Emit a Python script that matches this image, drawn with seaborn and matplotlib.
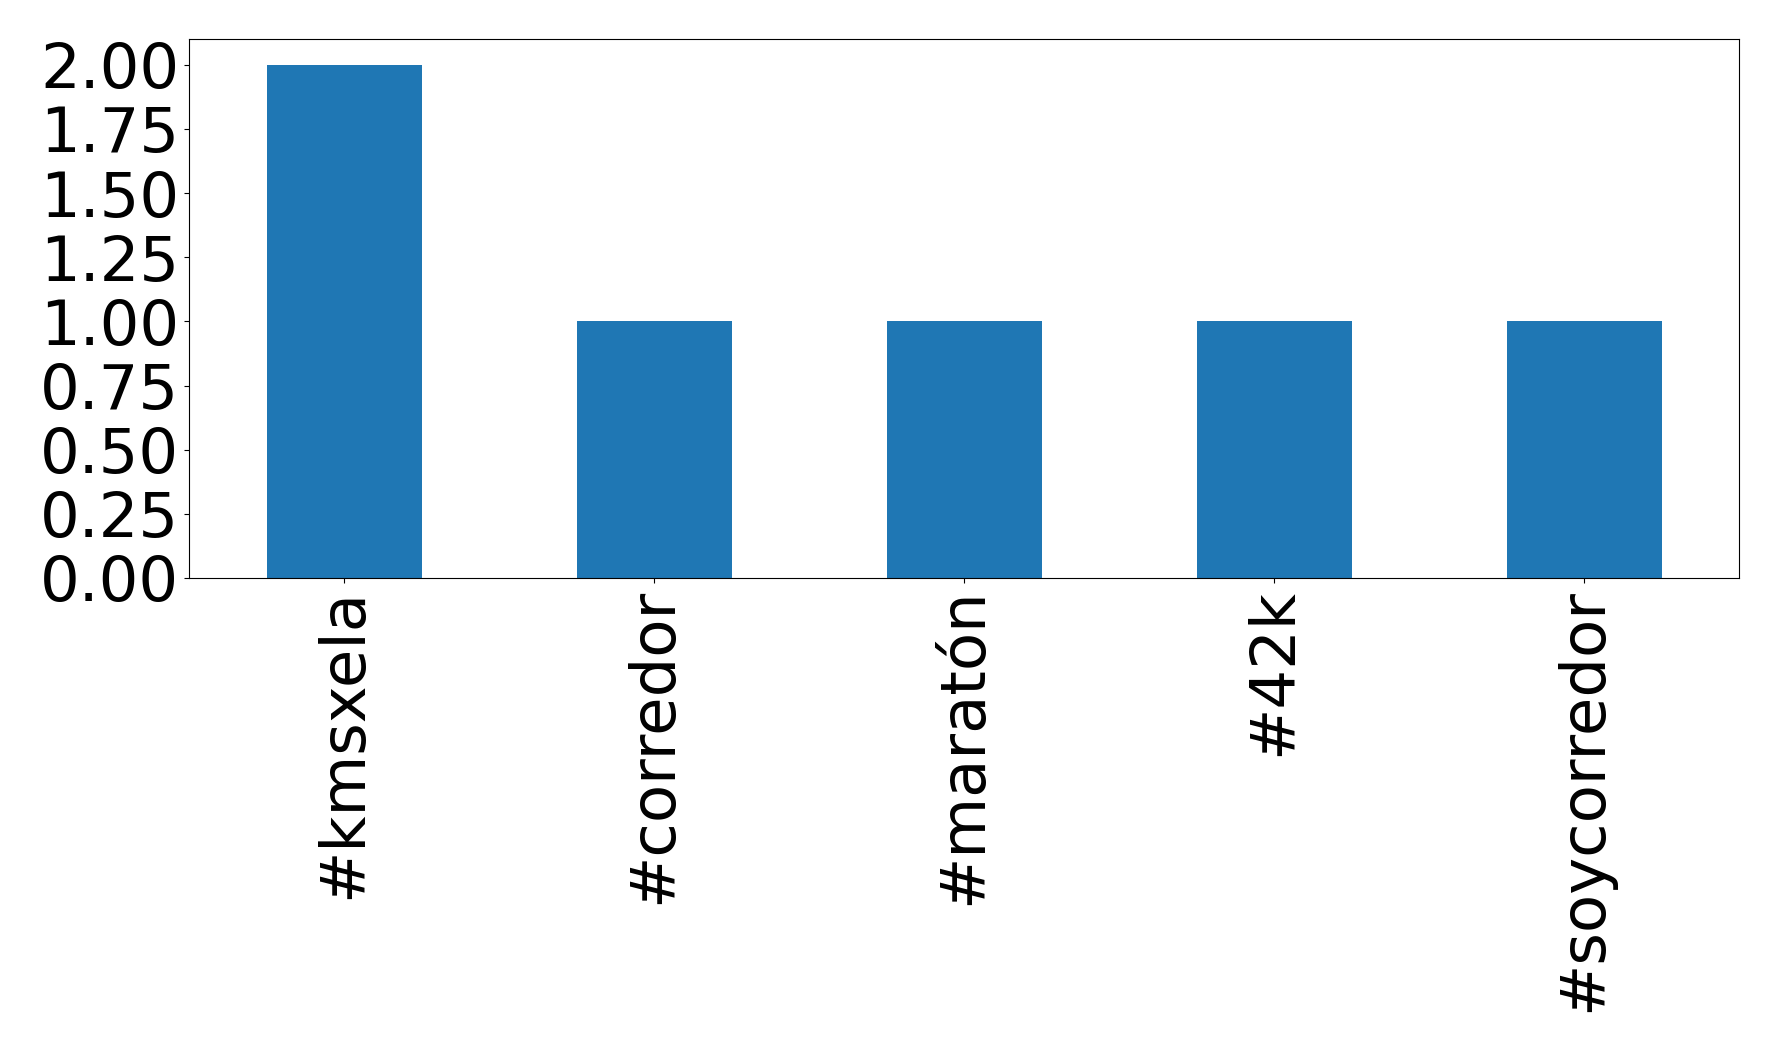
import matplotlib
matplotlib.use("Agg")
import matplotlib.pyplot as plt
import seaborn as sns
import pandas as pd

hashtags = ["#kmsxela", "#corredor", "#maratón", "#42k", "#soycorredor"]
counts = [2, 1, 1, 1, 1]

df = pd.DataFrame({"hashtag": hashtags, "count": counts})

fig = plt.figure(figsize=(17.78, 10.52), dpi=100)
ax = fig.add_axes([189/1778, 1 - 578/1052, 1550/1778, (578 - 39)/1052])
sns.barplot(data=df, x="hashtag", y="count", color="#1f77b4", saturation=1,
            width=0.5, ax=ax, errorbar=None, linewidth=0)
ax.set_xlim(-0.5, 4.5)
ax.set_ylim(0, 2.1)
yt = [0, 0.25, 0.5, 0.75, 1.0, 1.25, 1.5, 1.75, 2.0]
ax.set_yticks(yt)
ax.set_yticklabels([f"{v:.2f}" for v in yt])
ax.set_xlabel("")
ax.set_ylabel("")
ax.tick_params(axis="both", labelsize=45)
plt.setp(ax.get_xticklabels(), rotation=90)
fig.savefig("out.png", dpi=100)
